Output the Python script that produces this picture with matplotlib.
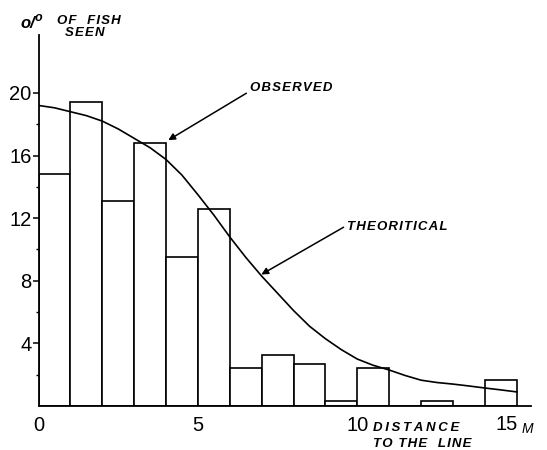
import matplotlib
matplotlib.use("Agg")
import matplotlib.pyplot as plt

# observed percentages per 1 m distance class (0-1, 1-2, ... 14-15)
bin_left = [0, 1, 2, 3, 4, 5, 6, 7, 8, 9, 10, 11, 12, 13, 14]
observed = [14.85, 19.4, 13.1, 16.8, 9.5, 12.6, 2.4, 3.25, 2.7, 0.35,
            2.4, 0.0, 0.35, 0.0, 1.65]

# theoretical curve
theo_x = [0, 0.5, 1, 1.5, 2, 2.5, 3, 3.5, 4, 4.5, 5, 5.5, 6, 6.5, 7, 7.5,
          8, 8.5, 9, 9.5, 10, 10.5, 11, 11.5, 12, 12.5, 13, 13.5, 14, 14.5, 15]
theo_y = [19.2, 19.05, 18.8, 18.55, 18.2, 17.7, 17.1, 16.5, 15.75, 14.75,
          13.5, 12.2, 10.8, 9.5, 8.3, 7.2, 6.1, 5.1, 4.3, 3.6, 3.0, 2.6,
          2.3, 1.95, 1.65, 1.5, 1.4, 1.28, 1.15, 1.03, 0.9]

x_ticks = [0, 5, 10]
y_major = [4, 8, 12, 16, 20]
y_minor = [2, 6, 10, 14, 18]

plt.rcParams["font.family"] = ["Liberation Sans", "DejaVu Sans"]


def spaced(s, gap="\u200a"):
    # old stencil lettering is widely spaced
    return gap.join(s)


fig = plt.figure(figsize=(5.47, 4.5), dpi=100)
ax = fig.add_axes([38.5 / 547, 1 - 406 / 450, (531 - 38.5) / 547, (406 - 35) / 450])

ax.bar(bin_left, observed, width=1, align="edge", color="white",
       edgecolor="black", linewidth=1.2, zorder=2)
ax.plot(theo_x, theo_y, color="black", linewidth=1.2, zorder=3)

ax.set_xlim(0, 15.45)
ax.set_ylim(0, 23.7)

for s in ["top", "right"]:
    ax.spines[s].set_visible(False)
ax.spines["left"].set_linewidth(1.3)
ax.spines["bottom"].set_linewidth(1.3)

ax.set_yticks(y_major)
ax.set_yticklabels([str(v) for v in y_major], fontsize=14.5)
ax.set_yticks(y_minor, minor=True)
ax.tick_params(axis="y", which="major", direction="out", length=4, width=1.1, pad=1)
ax.tick_params(axis="y", which="minor", direction="out", length=2, width=1)

ax.set_xticks(x_ticks)
ax.set_xticklabels([str(v) for v in x_ticks], fontsize=14.5)
ax.tick_params(axis="x", which="major", length=0, pad=7)

lab = dict(fontsize=9.5, fontweight="bold", fontstyle="italic")

# 15 M label
ax.text(14.68, -0.6, "15", fontsize=14.5, ha="center", va="top")
ax.text(15.15, -1.05, "M", fontsize=10, fontstyle="italic", ha="left", va="top")

ax.text(10.5, -1.05, spaced("DISTANCE", "\u2009"), ha="left", va="top", **lab)
ax.text(10.5, -2.05, spaced("TO THE  LINE"), ha="left", va="top", **lab)

fig.text(20 / 547, 1 - 23 / 450, "o/", fontsize=12, fontweight="bold",
         fontstyle="italic", va="center", ha="left")
fig.text(35 / 547, 1 - 18 / 450, "o", fontsize=9, fontweight="bold",
         fontstyle="italic", va="center", ha="left")
fig.text(57 / 547, 1 - 21 / 450, spaced("OF  FISH"), va="center", ha="left", **lab)
fig.text(65 / 547, 1 - 33 / 450, spaced("SEEN"), va="center", ha="left", **lab)

ax.annotate("", xy=(4.07, 16.98), xytext=(6.52, 19.98),
            arrowprops=dict(arrowstyle="-|>", color="black", lw=1.1,
                            mutation_scale=10, shrinkA=0, shrinkB=0))
ax.text(6.62, 20.3, spaced("OBSERVED"), ha="left", va="center", **lab)

ax.annotate("", xy=(6.99, 8.4), xytext=(9.57, 11.42),
            arrowprops=dict(arrowstyle="-|>", color="black", lw=1.1,
                            mutation_scale=10, shrinkA=0, shrinkB=0))
ax.text(9.67, 11.45, spaced("THEORITICAL"), ha="left", va="center", **lab)

fig.savefig("out.png", dpi=100)
